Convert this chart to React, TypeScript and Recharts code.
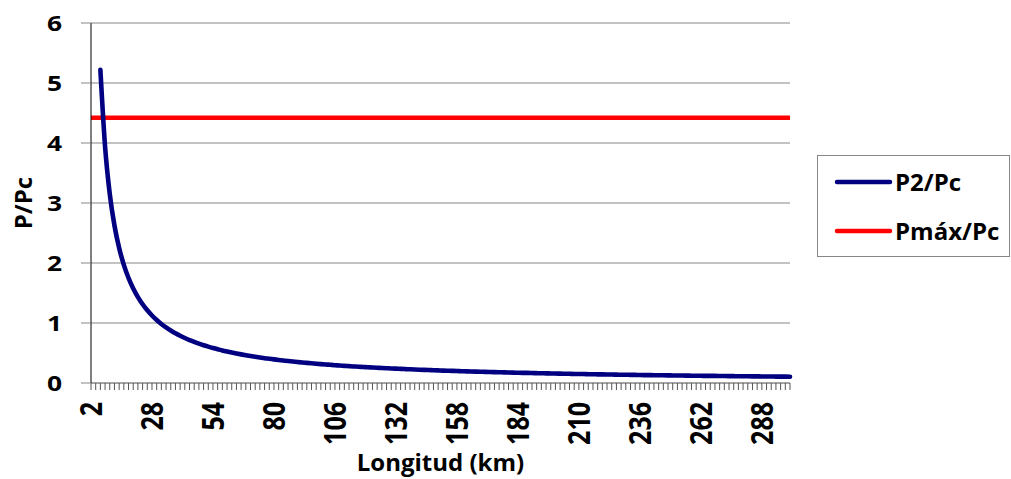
import { LineChart, Line, XAxis, YAxis, CartesianGrid } from "recharts"

const FONT = "'Open Sans', sans-serif"
const BLUE = "#000080"
const RED = "#ff0000"
const GRID = "#868686"

// longitud (km), one category every 2 km
const longitudKm = [
  2, 4, 6, 8, 10, 12, 14, 16, 18, 20, 22, 24, 26, 28, 30, 32, 34, 36, 38, 40,
  42, 44, 46, 48, 50, 52, 54, 56, 58, 60, 62, 64, 66, 68, 70, 72, 74, 76, 78, 80,
  82, 84, 86, 88, 90, 92, 94, 96, 98, 100, 102, 104, 106, 108, 110, 112, 114, 116, 118, 120,
  122, 124, 126, 128, 130, 132, 134, 136, 138, 140, 142, 144, 146, 148, 150, 152, 154, 156, 158, 160,
  162, 164, 166, 168, 170, 172, 174, 176, 178, 180, 182, 184, 186, 188, 190, 192, 194, 196, 198, 200,
  202, 204, 206, 208, 210, 212, 214, 216, 218, 220, 222, 224, 226, 228, 230, 232, 234, 236, 238, 240,
  242, 244, 246, 248, 250, 252, 254, 256, 258, 260, 262, 264, 266, 268, 270, 272, 274, 276, 278, 280,
  282, 284, 286, 288, 290, 292, 294, 296, 298, 300,
]

// P2/Pc (no value for the first two lengths)
const p2Pc = [
  null, null, 5.22, 3.94, 3.15, 2.625, 2.25, 1.969, 1.75, 1.575,
  1.432, 1.313, 1.212, 1.125, 1.05, 0.984, 0.926, 0.875, 0.829, 0.788,
  0.75, 0.716, 0.685, 0.656, 0.63, 0.606, 0.583, 0.563, 0.543, 0.525,
  0.508, 0.492, 0.477, 0.463, 0.45, 0.438, 0.426, 0.414, 0.404, 0.394,
  0.384, 0.375, 0.366, 0.358, 0.35, 0.342, 0.335, 0.328, 0.321, 0.315,
  0.309, 0.303, 0.297, 0.292, 0.286, 0.281, 0.276, 0.272, 0.267, 0.263,
  0.258, 0.254, 0.25, 0.246, 0.242, 0.239, 0.235, 0.232, 0.228, 0.225,
  0.222, 0.219, 0.216, 0.213, 0.21, 0.207, 0.205, 0.202, 0.199, 0.197,
  0.194, 0.192, 0.19, 0.188, 0.185, 0.183, 0.181, 0.179, 0.177, 0.175,
  0.173, 0.171, 0.169, 0.168, 0.166, 0.164, 0.162, 0.161, 0.159, 0.158,
  0.156, 0.154, 0.153, 0.151, 0.15, 0.149, 0.147, 0.146, 0.144, 0.143,
  0.142, 0.141, 0.139, 0.138, 0.137, 0.136, 0.135, 0.133, 0.132, 0.131,
  0.13, 0.129, 0.128, 0.127, 0.126, 0.125, 0.124, 0.123, 0.122, 0.121,
  0.12, 0.119, 0.118, 0.118, 0.117, 0.116, 0.115, 0.114, 0.113, 0.113,
  0.112, 0.111, 0.11, 0.109, 0.109, 0.108, 0.107, 0.106, 0.106, 0.105,
]

// Pmáx/Pc is flat over the whole length
const pmaxPc = 4.42

const yTicks = [0, 1, 2, 3, 4, 5, 6]
const labelEvery = 13

const data = longitudKm.map((km, i) => ({ km, p2: p2Pc[i], pmax: pmaxPc }))

// the source picture is stretched sideways, so widen the glyphs a bit
const STRETCH = 1.2

function XTick(props: any) {
  const { x, y, index, payload } = props
  if (index % labelEvery !== 0) return null
  return (
    <g transform={`translate(${x}, ${y}) scale(${STRETCH}, 1) rotate(-90)`}>
      <text x={0} y={0} textAnchor="end" dy="0.36em" fontFamily={FONT} fontWeight={700} fontSize={25} fill="#000">
        {payload.value}
      </text>
    </g>
  )
}

function YTick(props: any) {
  const { x, y, payload } = props
  return (
    <g transform={`translate(${x}, ${y}) scale(${STRETCH}, 1)`}>
      <text x={0} y={0} textAnchor="end" dy="0.36em" fontFamily={FONT} fontWeight={700} fontSize={22} fill="#000">
        {payload.value}
      </text>
    </g>
  )
}

function YTitle(props: any) {
  const vb = props.viewBox
  const x = vb.x + 32
  const y = vb.y + vb.height / 2
  return (
    <text x={x} y={y} transform={`rotate(-90, ${x}, ${y})`} textAnchor="middle" fontFamily={FONT} fontWeight={700} fontSize={24} fill="#000">
      P/Pc
    </text>
  )
}

function XTitle(props: any) {
  const vb = props.viewBox
  return (
    <text x={vb.x + vb.width / 2} y={vb.y + 88} textAnchor="middle" fontFamily={FONT} fontWeight={700} fontSize={24} fill="#000">
      Longitud (km)
    </text>
  )
}

const legendItems = [
  { name: "P2/Pc", color: BLUE },
  { name: "Pmáx/Pc", color: RED },
]

function LegendBox() {
  return (
    <svg width={193} height={102} style={{ position: "absolute", left: 817, top: 155 }}>
      <rect x={0.5} y={0.5} width={192} height={101} fill="#fff" stroke={GRID} />
      {legendItems.map((item, i) => {
        const cy = 27 + i * 49
        return (
          <g key={item.name}>
            <line x1={20} x2={73} y1={cy} y2={cy} stroke={item.color} strokeWidth={4.5} strokeLinecap="round" />
            <text x={78} y={cy + 8.5} fontFamily={FONT} fontWeight={700} fontSize={24} fill="#000">
              {item.name}
            </text>
          </g>
        )
      })}
    </svg>
  )
}

export default function App() {
  return (
    <div style={{ position: "relative", width: 1011, height: 479, background: "#fff" }}>
      <style>{"body{margin:0}"}</style>
      <LineChart width={1011} height={479} data={data} margin={{ top: 23, right: 221, bottom: 0, left: 0 }}>
        <CartesianGrid vertical={false} stroke={GRID} />
        <XAxis
          dataKey="km"
          interval={0}
          height={96}
          tickSize={7}
          tickMargin={12}
          tick={<XTick />}
          axisLine={{ stroke: GRID }}
          tickLine={{ stroke: "#555" }}
          label={(p: any) => <XTitle {...p} />}
        />
        <YAxis
          width={91}
          domain={[0, 6]}
          ticks={yTicks}
          interval={0}
          tickSize={10}
          tickMargin={19}
          axisLine={{ stroke: "#000" }}
          tickLine={{ stroke: GRID }}
          tick={<YTick />}
          label={(p: any) => <YTitle {...p} />}
        />
        <Line dataKey="pmax" name="Pmáx/Pc" stroke={RED} strokeWidth={4.5} dot={false} isAnimationActive={false} />
        <Line dataKey="p2" name="P2/Pc" type="monotone" stroke={BLUE} strokeWidth={4.6} strokeLinecap="round" dot={false} isAnimationActive={false} />
      </LineChart>
      <LegendBox />
    </div>
  )
}
